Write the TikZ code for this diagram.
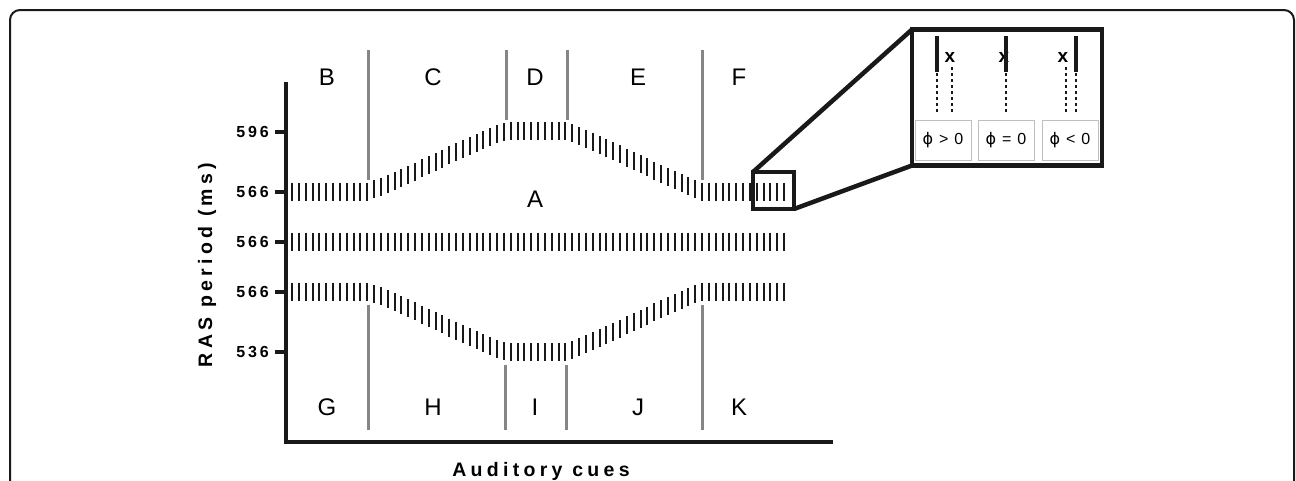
\documentclass[tikz,border=0pt]{standalone}
\usepackage{fontspec}
\setmainfont{Liberation Sans}
\newfontfamily\dejavu{DejaVu Sans}
\begin{document}
\begin{tikzpicture}[x=1pt,y=-1pt,
  letter/.style={font=\fontsize{24}{24}\selectfont, inner sep=0},
  ticklab/.style={font=\fontsize{16}{16}\selectfont\bfseries\addfontfeatures{LetterSpace=18}, anchor=east, inner sep=0},
  axlab/.style={font=\fontsize{19.5}{19.5}\selectfont\bfseries\addfontfeatures{LetterSpace=22}, inner sep=0},
  axis/.style={line width=4pt, black!90},
  divider/.style={line width=3pt, draw=gray!95},
  cue/.style={line width=2pt, black!90},
  zoomline/.style={line width=4.5pt, black!90},
  phibox/.style={draw=black!25, line width=1pt, minimum width=56, minimum height=40, inner sep=0, font=\fontsize{16}{16}\selectfont},
  beat/.style={line width=4pt, black!90},
  dotline/.style={line width=2pt, dash pattern=on 3pt off 3pt, black!90},
  xmark/.style={font=\fontsize{19}{19}\selectfont\bfseries, inner sep=0}
]
\useasboundingbox (0,0) rectangle (1296,480);
% outer frame
\begin{scope}
\clip (0,0) rectangle (1296,480);
\draw[rounded corners=10pt, line width=2pt, black!90] (10,500) -- (10,10) -- (1294,10) -- (1294,500);
\end{scope}

% axes
\draw[axis] (286,82) -- (286,442) -- (833,442);
\foreach \yy/\lab [count=\i] in {131.5/596, 191.5/566, 241.5/566, 291.5/566, 352/536} {
  \draw[axis] (275,\yy) -- (286,\yy);
  \node[ticklab] (t\i) at (269,\yy) {\lab};
}
\node[axlab, rotate=90] (ylab) at (207,265) {RAS period (ms)};
\node[axlab] (xlab) at (541,471) {Auditory cues};

% dividers
\draw[divider] (368,50) -- (368,180);
\draw[divider] (506,50) -- (506,120);
\draw[divider] (567,50) -- (567,120);
\draw[divider] (702,50) -- (702,180);
\draw[divider] (368,305) -- (368,430);
\draw[divider] (505,365) -- (505,430);
\draw[divider] (566,365) -- (566,430);
\draw[divider] (702,305) -- (702,430);

% letters
\foreach \nm/\xx in {B/327, C/433, D/535, E/638, F/739} {
  \node[letter] (l\nm) at (\xx,77) {\nm};
}
\foreach \nm/\xx in {G/327, H/433, I/535, J/638, K/739} {
  \node[letter] (l\nm) at (\xx,407) {\nm};
}
\node[letter] (lA) at (535,199) {A};

% cue bars
\foreach \k in {0,...,72} {
  \pgfmathsetmacro\xx{292+6.8333*\k}
  \pgfmathsetmacro\ta{min(max((\xx-368)/138,0),1)}
  \pgfmathsetmacro\tb{min(max((\xx-567)/135,0),1)}
  \pgfmathsetmacro\s{\xx<=567 ? 0.85*\ta+0.15*(1-cos(180*\ta))/2 : 1-(0.85*\tb+0.15*(1-cos(180*\tb))/2)}
  \pgfmathsetmacro\ya{191.5-60.5*\s}
  \pgfmathsetmacro\yc{291.5+60.5*\s}
  \draw[cue] (\xx,\ya-9) -- (\xx,\ya+9);
  \draw[cue] (\xx,232.5) -- (\xx,250.5);
  \draw[cue] (\xx,\yc-9) -- (\xx,\yc+9);
}

% zoom boxes
\node[draw, line width=4.5pt, black!90, minimum width=41, minimum height=37, inner sep=0, outer sep=0] (sbox) at (773.5,190.5) {};
\node[draw, line width=4.5pt, black!90, minimum width=190, minimum height=136, inner sep=0, outer sep=0] (bbox) at (1007,97.5) {};
\draw[zoomline] (sbox.north west) -- (bbox.north west);
\draw[zoomline] (sbox.south east) -- (bbox.south west);

% inside big box
\node[phibox] (p1) at (943,140) {{\dejavu ϕ}\hspace{6pt}>\hspace{6pt}0};
\node[phibox] (p2) at (1006,140) {{\dejavu ϕ}\hspace{6pt}=\hspace{6pt}0};
\node[phibox] (p3) at (1070,140) {{\dejavu ϕ}\hspace{6pt}<\hspace{6pt}0};

\node[xmark] (x1) at (950,57) {x};
\node[xmark] (x2) at (1004,57) {x};
\node[xmark] (x3) at (1063,57) {x};

\draw[beat] (937,36) -- (937,72);
\draw[beat] (1006,36) -- (1006,72);
\draw[beat] (1076,36) -- (1076,72);

\draw[dotline] (937,73) -- (937,114);
\draw[dotline] (952,67) -- (952,114);
\draw[dotline] (1006,73) -- (1006,114);
\draw[dotline] (1066,67) -- (1066,114);
\draw[dotline] (1076,73) -- (1076,114);
\end{tikzpicture}
\end{document}
